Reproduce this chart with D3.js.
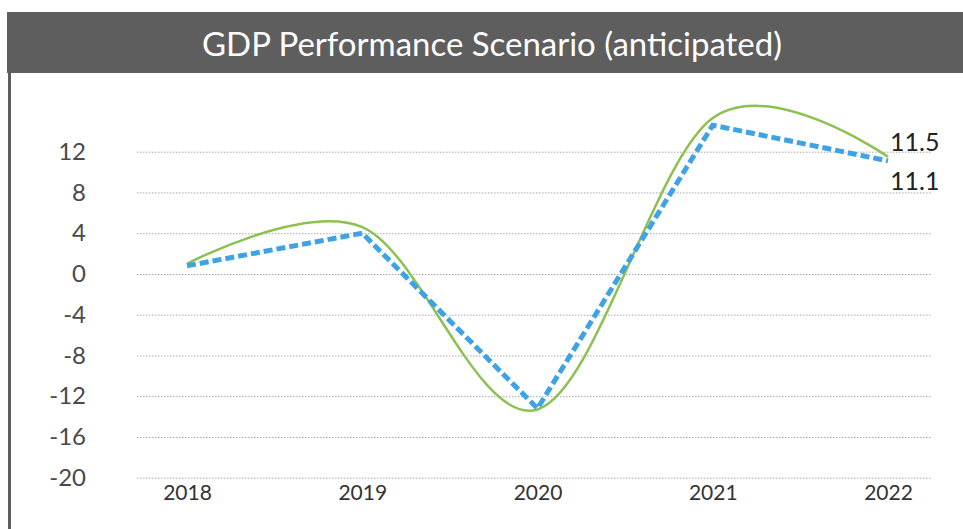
<!DOCTYPE html>
<html>
<head>
<meta charset="utf-8">
<script src="https://cdn.jsdelivr.net/npm/d3@7"></script>
<style>
  html, body { margin: 0; padding: 0; background: #fff; }
  svg { display: block; }
  text { font-family: Lato, "Open Sans", sans-serif; }
</style>
</head>
<body>
<svg id="chart" width="963" height="529"></svg>
<script>
// GDP growth, %, by year
const years = ["2018", "2019", "2020", "2021", "2022"];
const smoothSeries = [1.0, 4.6, -13.3, 15.3, 11.5];
const straightSeries = [0.8, 4.0, -13.2, 14.6, 11.1];
const yTicks = [-20, -16, -12, -8, -4, 0, 4, 8, 12];
const title = "GDP Performance Scenario (anticipated)";

const W = 963, H = 529;
const svg = d3.select("#chart");

// header band and left frame edge
svg.append("rect").attr("x", 7).attr("y", 12).attr("width", W - 7).attr("height", 61).attr("fill", "#5e5e5e");
svg.append("rect").attr("x", 8).attr("y", 73).attr("width", 3).attr("height", H - 73).attr("fill", "#5e5e5e");

const titleText = svg.append("text")
  .attr("x", 492).attr("y", 56)
  .attr("text-anchor", "middle")
  .attr("fill", "#ffffff")
  .attr("font-size", 30)
  .text(title);
const tw = titleText.node().getComputedTextLength();
titleText.attr("font-size", 30 * 580 / tw);

const x = d3.scalePoint().domain(years).range([187, 888]);
const y = d3.scaleLinear().domain([-20, 12]).range([477.7, 151.7]);

// dotted gridlines
const grid = svg.append("g")
  .attr("transform", "translate(137,0)")
  .call(d3.axisRight(y).tickValues(yTicks).tickSize(794).tickFormat(""));
grid.select(".domain").remove();
grid.selectAll("line").attr("stroke", "#a8a8a8").attr("stroke-width", 1).attr("stroke-dasharray", "1.5,1.5");

// y tick labels (plain hyphen for negatives)
const yAxis = svg.append("g")
  .attr("transform", "translate(86,0)")
  .call(d3.axisLeft(y).tickValues(yTicks).tickSize(0).tickPadding(0).tickFormat(d => String(d)));
yAxis.select(".domain").remove();
yAxis.selectAll("text").attr("font-size", 24).attr("fill", "#4a4a4a").attr("font-family", "Lato, sans-serif");

// x labels
const xAxis = svg.append("g")
  .attr("transform", "translate(0,480)")
  .call(d3.axisBottom(x).tickSize(0).tickPadding(5));
xAxis.select(".domain").remove();
xAxis.selectAll("text").attr("font-size", 21).attr("fill", "#333").attr("font-family", "Lato, sans-serif");

// smoothed series
svg.append("path")
  .datum(smoothSeries)
  .attr("fill", "none")
  .attr("stroke", "#8cc152")
  .attr("stroke-width", 2.5)
  .attr("d", d3.line().x((d, i) => x(years[i])).y(d => y(d)).curve(d3.curveCatmullRom.alpha(0)));

// straight dashed series
svg.append("path")
  .datum(straightSeries)
  .attr("fill", "none")
  .attr("stroke", "#3ea3e4")
  .attr("stroke-width", 5)
  .attr("stroke-dasharray", "9,4")
  .attr("d", d3.line().x((d, i) => x(years[i])).y(d => y(d)));

// end-point value labels
const last = years.length - 1;
const fmt = d3.format(".1f");
svg.append("text")
  .attr("x", x(years[last]) + 2).attr("y", 151)
  .attr("font-size", 25).attr("fill", "#222")
  .text(fmt(smoothSeries[last]));
svg.append("text")
  .attr("x", x(years[last]) + 2).attr("y", 190)
  .attr("font-size", 25).attr("fill", "#222")
  .text(fmt(straightSeries[last]));
</script>
</body>
</html>
